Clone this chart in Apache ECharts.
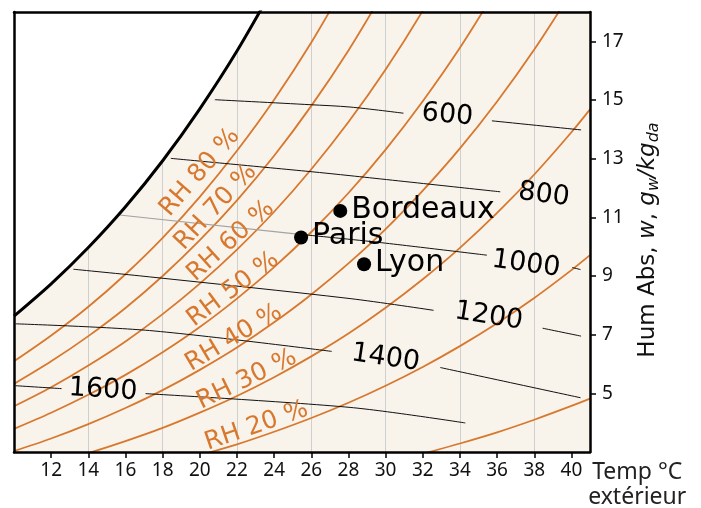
<!DOCTYPE html>
<html>
<head>
<meta charset="utf-8">
<script src="https://cdn.jsdelivr.net/npm/echarts/dist/echarts.min.js"></script>
<style>
  html, body { margin: 0; padding: 0; background: #fff; }
  #chart { width: 701px; height: 508px; }
</style>
</head>
<body>
<div id="chart"></div>
<script>
// ticks of the axes
var xTicks = [12, 14, 16, 18, 20, 22, 24, 26, 28, 30, 32, 34, 36, 38, 40];
var yTicks = [5, 7, 9, 11, 13, 15, 17];
var gridTemps = [14, 18, 22, 26, 30, 34, 38];

// saturation curve (RH 100 %) : [temp, g/kg]
var satCurve = [[10, 7.63], [12, 8.73], [14, 9.97], [16, 11.36], [18, 12.93], [20, 14.70], [22, 16.67], [24, 18.88]];

// relative humidity curves
var rh80 = [[10, 6.09], [12, 6.97], [14, 7.95], [16, 9.06], [18, 10.30], [20, 11.70], [22, 13.27], [24, 15.01], [26, 16.96], [28, 19.15]];
var rh70 = [[10, 5.32], [12, 6.09], [14, 6.95], [16, 7.91], [18, 9.00], [20, 10.22], [22, 11.58], [24, 13.10], [26, 14.80], [28, 16.69], [30, 18.80]];
var rh60 = [[10, 4.56], [12, 5.21], [14, 5.95], [16, 6.77], [18, 7.70], [20, 8.74], [22, 9.90], [24, 11.19], [26, 12.64], [28, 14.25], [30, 16.04], [32, 18.04], [34, 20.25]];
var rh50 = [[10, 3.79], [12, 4.34], [14, 4.95], [16, 5.63], [18, 6.40], [20, 7.26], [22, 8.23], [24, 9.30], [26, 10.50], [28, 11.83], [30, 13.31], [32, 14.96], [34, 16.78], [36, 18.81]];
var rh40 = [[10, 3.03], [12, 3.46], [14, 3.95], [16, 4.50], [18, 5.11], [20, 5.80], [22, 6.56], [24, 7.42], [26, 8.37], [28, 9.43], [30, 10.60], [32, 11.91], [34, 13.35], [36, 14.95], [38, 16.72], [40, 18.68]];
var rh30 = [[12, 2.59], [14, 2.96], [16, 3.37], [18, 3.82], [20, 4.34], [22, 4.91], [24, 5.55], [26, 6.26], [28, 7.04], [30, 7.92], [32, 8.89], [34, 9.96], [36, 11.15], [38, 12.46], [40, 13.90], [41, 14.68]];
var rh20 = [[20, 2.89], [22, 3.26], [24, 3.69], [26, 4.16], [28, 4.68], [30, 5.26], [32, 5.90], [34, 6.61], [36, 7.39], [38, 8.25], [40, 9.20], [41, 9.71]];
var rh10 = [[32, 2.94], [34, 3.29], [36, 3.67], [38, 4.10], [40, 4.57], [41, 4.82]];

var rhText = ['RH 80 %', 'RH 70 %', 'RH 60 %', 'RH 50 %', 'RH 40 %', 'RH 30 %', 'RH 20 %'];
var rhLabelPos = [[20.0, 12.53], [20.86, 11.35], [21.67, 10.19], [21.79, 8.54], [21.83, 6.89], [22.53, 5.47], [23.05, 3.88]];
var rhLabelAngle = [49, 47, 42, 37, 31, 26, 19];

// iso lines (segments cut where the label sits)
var iso600 = [[[20.81, 15.01], [25.93, 14.84], [28.09, 14.76], [30.96, 14.55]], [[35.72, 14.29], [40.52, 13.98]]];
var iso800 = [[[18.44, 13.01], [25.93, 12.56], [28.09, 12.42], [36.17, 11.87]]];
var iso1000Gray = [[15.68, 11.08], [25.39, 10.42]];
var iso1000 = [[[25.39, 10.42], [29.43, 10.16], [35.45, 9.71]], [[40.04, 9.29], [40.49, 9.22]]];
var iso1200 = [[[13.20, 9.23], [17.30, 8.97], [28.09, 8.23], [32.58, 7.83]], [[38.45, 7.22], [40.52, 6.95]]];
var iso1400 = [[[10.08, 7.37], [17.30, 7.14], [27.10, 6.43]], [[32.94, 5.88], [40.49, 4.85]]];
var iso1600 = [[[10.08, 5.26], [12.56, 5.16]], [[17.08, 4.99], [28.09, 4.52], [34.29, 3.99]]];

var isoText = ['600', '800', '1000', '1200', '1400', '1600'];
var isoLabelPos = [[33.32, 14.48], [38.52, 11.76], [37.55, 9.40], [35.55, 7.62], [30.0, 6.20], [14.79, 5.11]];
var isoLabelAngle = [-5, -7, -8, -9, -8.5, -3.5];

// cities
var cityNames = ['Paris', 'Bordeaux', 'Lyon'];
var cityTemp = [25.45, 27.56, 28.84];
var cityHum = [10.31, 11.22, 9.40];

var ORANGE = '#d8782e';

function curve(data, color, width, z) {
    return {
        type: 'line', data: data, smooth: 0.3, symbol: 'none', silent: true,
        lineStyle: { color: color, width: width }, z: z
    };
}

var series = [];

// white area above the saturation curve
series.push({
    type: 'line', data: satCurve, smooth: 0.3, symbol: 'none', silent: true, z: 4,
    lineStyle: { color: '#000', width: 3 },
    areaStyle: { color: '#fff', opacity: 1, origin: 'end' }
});

[rh80, rh70, rh60, rh50, rh40, rh30, rh20, rh10].forEach(function (c) {
    series.push(curve(c, ORANGE, 1.8, 3));
});

[iso600, iso800, iso1000, iso1200, iso1400, iso1600].forEach(function (segs) {
    segs.forEach(function (s) { series.push(curve(s, '#111', 1, 3)); });
});
series.push(curve(iso1000Gray, '#a3a3a3', 1.2, 3));

// RH labels
series.push({
    type: 'scatter', symbolSize: 0, silent: true, z: 6,
    itemStyle: { opacity: 1 },
    data: rhLabelPos.map(function (p, i) {
        return { value: p, name: rhText[i], label: { rotate: rhLabelAngle[i] } };
    }),
    label: {
        show: true, position: 'inside', formatter: '{b}',
        fontFamily: 'DejaVu Sans', fontSize: 25, color: ORANGE
    }
});

// iso labels
series.push({
    type: 'scatter', symbolSize: 0, silent: true, z: 6,
    itemStyle: { opacity: 1 },
    data: isoLabelPos.map(function (p, i) {
        return { value: p, name: isoText[i], label: { rotate: isoLabelAngle[i] } };
    }),
    label: {
        show: true, position: 'inside', formatter: '{b}',
        fontFamily: 'DejaVu Sans', fontSize: 27, color: '#000'
    }
});

// cities
series.push({
    type: 'scatter', symbol: 'circle', symbolSize: 14, silent: true, z: 7,
    itemStyle: { color: '#000', opacity: 1 },
    data: cityNames.map(function (n, i) { return { value: [cityTemp[i], cityHum[i]], name: n }; }),
    label: {
        show: true, position: 'right', distance: 4, formatter: '{b}', offset: [0, -1],
        fontFamily: 'DejaVu Sans', fontSize: 30, color: '#000'
    }
});

var chart = echarts.init(document.getElementById('chart'));
chart.setOption({
    animation: false,
    backgroundColor: '#fff',
    grid: {
        left: 14, right: 111, top: 12, bottom: 56,
        show: true, backgroundColor: '#f8f3eb', borderWidth: 0,
        outerBoundsMode: 'none'
    },
    xAxis: [{
        type: 'value', position: 'bottom', min: 10, max: 41, interval: 2, z: 10,
        axisLine: { show: true, lineStyle: { color: '#000', width: 2.5 } },
        axisTick: { show: true, length: 6, customValues: xTicks, lineStyle: { color: '#000', width: 1.5 } },
        axisLabel: { customValues: xTicks, margin: 9, fontSize: 19, fontFamily: 'Noto Sans', color: '#111' },
        splitLine: { show: false },
        name: 'Temp °C\nextérieur', nameLocation: 'end', nameGap: 47,
        nameTextStyle: {
            fontFamily: 'Noto Sans', fontSize: 23, color: '#222', lineHeight: 25,
            align: 'center', verticalAlign: 'top', padding: [8, 0, 0, 0]
        }
    }, {
        type: 'value', position: 'top', min: 10, max: 41, z: 10,
        axisLine: { show: true, lineStyle: { color: '#000', width: 2.5 } },
        axisTick: { show: false }, axisLabel: { show: false }, splitLine: { show: false }
    }, {
        type: 'value', position: 'bottom', min: 10, max: 41, interval: 4, z: 0,
        axisLine: { show: false },
        axisTick: { show: false, customValues: gridTemps }, axisLabel: { show: false },
        splitLine: { show: true, lineStyle: { color: '#cfcfcf', width: 1 } }
    }],
    yAxis: [{
        type: 'value', position: 'right', min: 3, max: 18, z: 10,
        axisLine: { show: true, lineStyle: { color: '#000', width: 2.5 } },
        axisTick: { show: true, length: 6, customValues: yTicks, lineStyle: { color: '#000', width: 1.5 } },
        axisLabel: { customValues: yTicks, margin: 12, fontSize: 19, fontFamily: 'Noto Sans', color: '#111' },
        splitLine: { show: false },
        name: 'Hum Abs, {i|w}, {i|g}{s|w}{i|/kg}{s|da}',
        nameLocation: 'middle', nameRotate: 90, nameGap: 44,
        nameTextStyle: {
            fontFamily: 'DejaVu Sans', fontSize: 23, color: '#111', padding: [0, 16, 0, 0],
            rich: {
                i: { fontFamily: 'DejaVu Sans', fontStyle: 'italic', fontSize: 23, color: '#111' },
                s: { fontFamily: 'DejaVu Sans', fontStyle: 'italic', fontSize: 16, color: '#111', verticalAlign: 'bottom', padding: [12, 0, 0, 0] }
            }
        }
    }, {
        type: 'value', position: 'left', min: 3, max: 18, z: 10,
        axisLine: { show: true, lineStyle: { color: '#000', width: 2.5 } },
        axisTick: { show: false }, axisLabel: { show: false }, splitLine: { show: false }
    }],
    series: series
});
</script>
</body>
</html>
